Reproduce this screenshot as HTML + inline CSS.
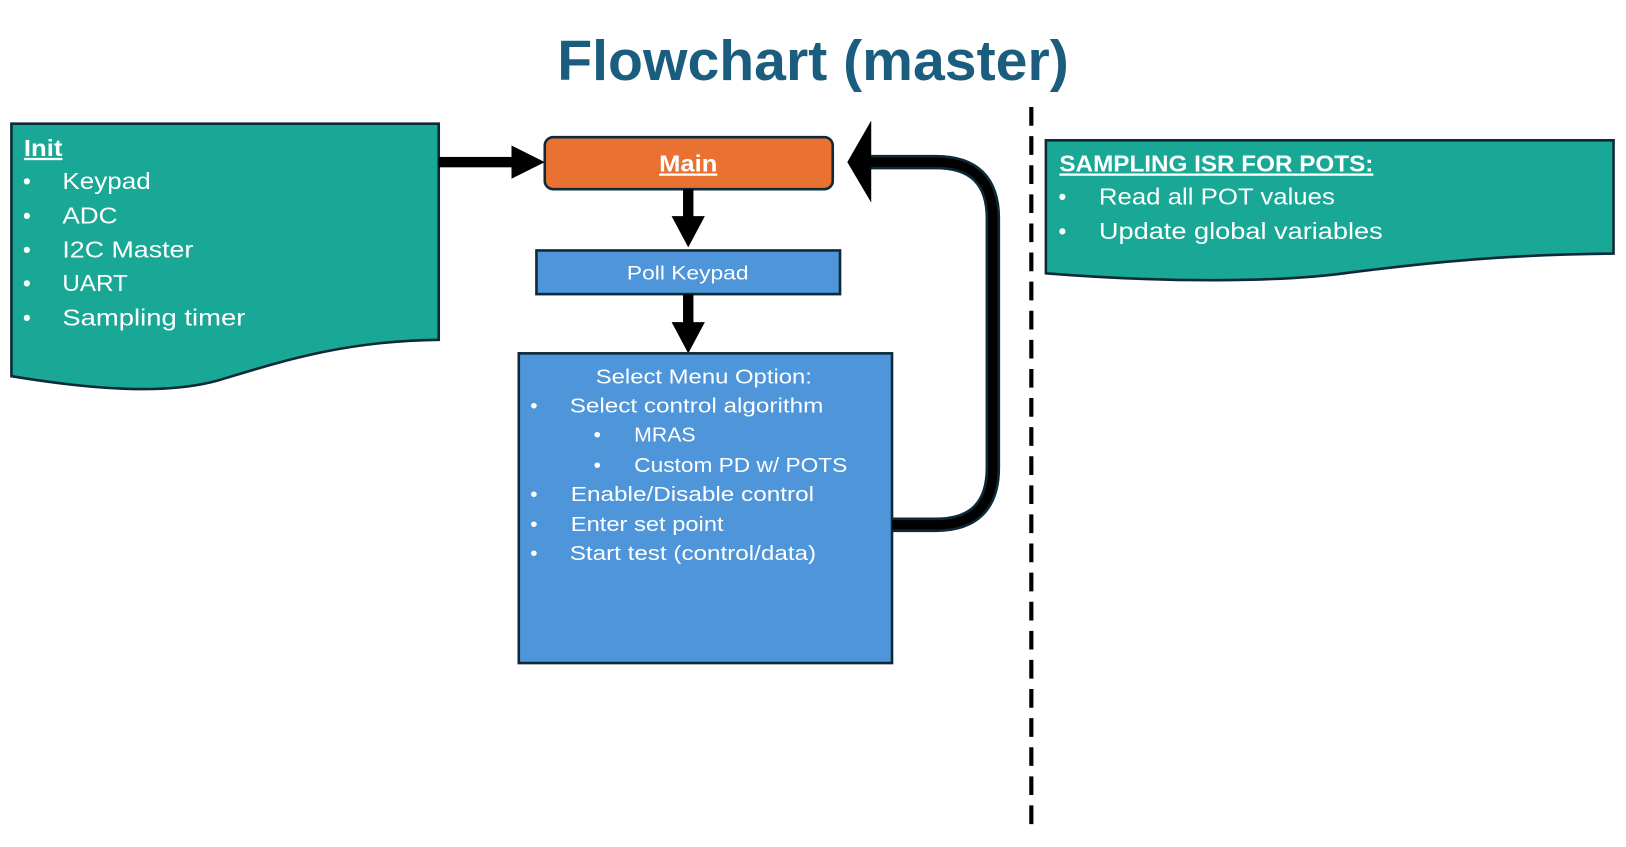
<!DOCTYPE html>
<html><head><meta charset="utf-8"><style>
html,body{margin:0;padding:0;background:#fff;}
svg{display:block;}
text{font-family:"Liberation Sans",sans-serif;fill:#fff;}
</style></head><body>
<svg width="1626" height="847" viewBox="0 0 1564 815" preserveAspectRatio="none" xmlns="http://www.w3.org/2000/svg">
<text x="782" y="77" text-anchor="middle" font-size="54" font-weight="bold" style="fill:#1b5d7f" textLength="492" lengthAdjust="spacingAndGlyphs">Flowchart (master)</text>

<!-- Init doc -->
<path d="M11,119 H422 V327 C330,328 270,348 210,366 C160,380 90,375 11,362 Z" fill="#1aa896" stroke="#0e2a38" stroke-width="2.5"/>
<text x="23" y="150" font-size="22" font-weight="bold" text-decoration="underline" textLength="37" lengthAdjust="spacingAndGlyphs">Init</text>
<g font-size="22">
<text x="22" y="182">•</text><text x="60" y="182" textLength="85" lengthAdjust="spacingAndGlyphs">Keypad</text>
<text x="22" y="215">•</text><text x="60" y="215" textLength="53" lengthAdjust="spacingAndGlyphs">ADC</text>
<text x="22" y="248">•</text><text x="60" y="248" textLength="126" lengthAdjust="spacingAndGlyphs">I2C Master</text>
<text x="22" y="280">•</text><text x="60" y="280" textLength="63" lengthAdjust="spacingAndGlyphs">UART</text>
<text x="22" y="313">•</text><text x="60" y="313" textLength="176" lengthAdjust="spacingAndGlyphs">Sampling timer</text>
</g>

<rect x="422" y="151" width="72" height="10" fill="#000"/>
<polygon points="492,140 524,156 492,172" fill="#000"/>

<rect x="524" y="132" width="277" height="50" rx="8" fill="#e97132" stroke="#0e2a38" stroke-width="2.5"/>
<text x="634" y="165" font-size="22" font-weight="bold" text-decoration="underline" textLength="56" lengthAdjust="spacingAndGlyphs">Main</text>

<rect x="657" y="182" width="10" height="28" fill="#000"/>
<polygon points="646,208 678,208 662,238" fill="#000"/>

<rect x="516" y="241" width="292" height="42" fill="#4e95d9" stroke="#0e2a38" stroke-width="2.5"/>
<text x="603" y="269" font-size="19" textLength="117" lengthAdjust="spacingAndGlyphs">Poll Keypad</text>

<rect x="657" y="283" width="10" height="29" fill="#000"/>
<polygon points="646,310 678,310 662,340" fill="#000"/>

<rect x="499" y="340" width="359" height="298" fill="#4e95d9" stroke="#0e2a38" stroke-width="2.5"/>
<g font-size="20">
<text x="573" y="369" textLength="208" lengthAdjust="spacingAndGlyphs">Select Menu Option:</text>
<text x="510" y="397">•</text><text x="548" y="397" textLength="244" lengthAdjust="spacingAndGlyphs">Select control algorithm</text>
<text x="571" y="425">•</text><text x="610" y="425" textLength="59" lengthAdjust="spacingAndGlyphs">MRAS</text>
<text x="571" y="454">•</text><text x="610" y="454" textLength="205" lengthAdjust="spacingAndGlyphs">Custom PD w/ POTS</text>
<text x="510" y="482">•</text><text x="549" y="482" textLength="234" lengthAdjust="spacingAndGlyphs">Enable/Disable control</text>
<text x="510" y="511">•</text><text x="549" y="511" textLength="147" lengthAdjust="spacingAndGlyphs">Enter set point</text>
<text x="510" y="539">•</text><text x="548" y="539" textLength="237" lengthAdjust="spacingAndGlyphs">Start test (control/data)</text>
</g>

<path d="M858,505 H900 Q955,505 955,450 V210 Q955,156 900,156 H836" fill="none" stroke="#0e2a38" stroke-width="14"/>
<path d="M858,505 H900 Q955,505 955,450 V210 Q955,156 900,156 H836" fill="none" stroke="#000" stroke-width="9"/>
<polygon points="838,116 838,195 815,156" fill="#000"/>

<line x1="992" y1="103" x2="992" y2="797" stroke="#000" stroke-width="4" stroke-dasharray="18,10"/>

<path d="M1006,135 H1552 V244 C1450,245 1380,252 1300,262 C1230,272 1120,272 1006,263 Z" fill="#1aa896" stroke="#0e2a38" stroke-width="2.5"/>
<text x="1019" y="165" font-size="22" font-weight="bold" text-decoration="underline" textLength="302" lengthAdjust="spacingAndGlyphs">SAMPLING ISR FOR POTS:</text>
<g font-size="22">
<text x="1018" y="197">•</text><text x="1057" y="197" textLength="227" lengthAdjust="spacingAndGlyphs">Read all POT values</text>
<text x="1018" y="230">•</text><text x="1057" y="230" textLength="273" lengthAdjust="spacingAndGlyphs">Update global variables</text>
</g>
</svg>
</body></html>
